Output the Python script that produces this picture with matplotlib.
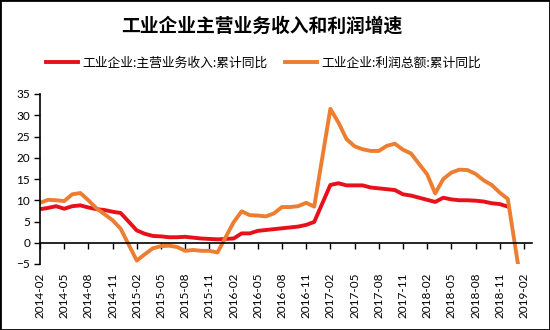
import numpy as np
import pandas as pd
import matplotlib
matplotlib.use("Agg")
import matplotlib.pyplot as plt
from matplotlib.patches import Rectangle

nan = np.nan

# monthly, 2014-02 .. 2019-02 (January not published -> nan)
months = pd.date_range("2014-02-01", "2019-02-01", freq="MS")

revenue = [7.9, 8.2, 8.6, 8.0, 8.6, 8.8, 8.3, 7.9, 7.7, 7.3, 7.0, nan,
           2.9, 2.1, 1.6, 1.5, 1.3, 1.3, 1.4, 1.2, 1.0, 0.9, 0.8, nan,
           1.0, 2.2, 2.2, 2.8, 3.0, 3.2, 3.4, 3.6, 3.8, 4.2, 4.9, nan,
           13.6, 14.0, 13.5, 13.5, 13.5, 13.0, 12.8, 12.6, 12.4, 11.4, 11.1, nan,
           10.1, 9.6, 10.6, 10.2, 10.0, 10.0, 9.9, 9.7, 9.3, 9.1, 8.5, nan,
           nan]

profit = [9.4, 10.1, 10.0, 9.8, 11.4, 11.7, 10.0, 8.1, 6.7, 5.3, 3.3, nan,
          -4.2, -2.7, -1.3, -0.8, -0.7, -1.0, -1.9, -1.7, -1.9, -1.9, -2.3, nan,
          4.8, 7.4, 6.5, 6.4, 6.2, 6.9, 8.4, 8.4, 8.6, 9.4, 8.5, nan,
          31.5, 28.3, 24.4, 22.7, 22.0, 21.6, 21.6, 22.8, 23.3, 21.9, 21.0, nan,
          16.1, 11.6, 15.0, 16.5, 17.2, 17.1, 16.2, 14.7, 13.6, 11.8, 10.3, nan,
          -14.0]

labels = ["工业企业:主营业务收入:累计同比", "工业企业:利润总额:累计同比"]
title = "工业企业主营业务收入和利润增速"

cjk = ["Noto Sans CJK SC", "DejaVu Sans"]
plt.rcParams["font.family"] = ["Lato", "DejaVu Sans"]

fig = plt.figure(figsize=(5.5, 3.3), dpi=100)
ax = fig.add_axes([40/550, 1-264/330, (532-40)/550, (264-94)/330])

x = np.arange(len(months))
rev = np.array(revenue, dtype=float)
pro = np.array(profit, dtype=float)
m1 = ~np.isnan(rev)
m2 = ~np.isnan(pro)
l1, = ax.plot(x[m1], rev[m1], color="#E8101A", lw=2.8, solid_joinstyle="round")
l2, = ax.plot(x[m2], pro[m2], color="#ED7D31", lw=2.8, solid_joinstyle="round")

ax.set_xlim(0, 61)
ax.set_ylim(-5, 35)
ax.set_yticks(range(-5, 36, 5))
ax.tick_params(axis="y", direction="out", length=4, width=1, labelsize=8.5,
               colors="black", pad=3)

for s in ["top", "right"]:
    ax.spines[s].set_visible(False)
ax.spines["left"].set_linewidth(1.2)
ax.spines["bottom"].set_position(("data", 0))
ax.spines["bottom"].set_linewidth(1.2)

ticks = x[::3]
ax.set_xticks(ticks)
ax.tick_params(axis="x", direction="out", length=4, width=1, labelbottom=False)

sec = ax.secondary_xaxis("bottom")
sec.spines["bottom"].set_visible(False)
sec.set_xticks(ticks, [d.strftime("%Y-%m") for d in months[::3]], rotation=90)
sec.tick_params(length=0, pad=6, labelsize=8.5)

fig.text(0.476, 0.92, title, ha="center", va="center", fontsize=13.5,
         fontweight="bold", family=cjk)

fig.legend([l1, l2], labels, loc="center", bbox_to_anchor=(0.479, 0.809),
           ncol=2, frameon=False, prop={"family": cjk, "size": 9.2},
           handlelength=2.5, handletextpad=0.3, columnspacing=1.4)

fig.add_artist(Rectangle((0, 0), 1, 1, transform=fig.transFigure, fill=False,
                         edgecolor="black", lw=2))

fig.savefig("out.png", dpi=100)
